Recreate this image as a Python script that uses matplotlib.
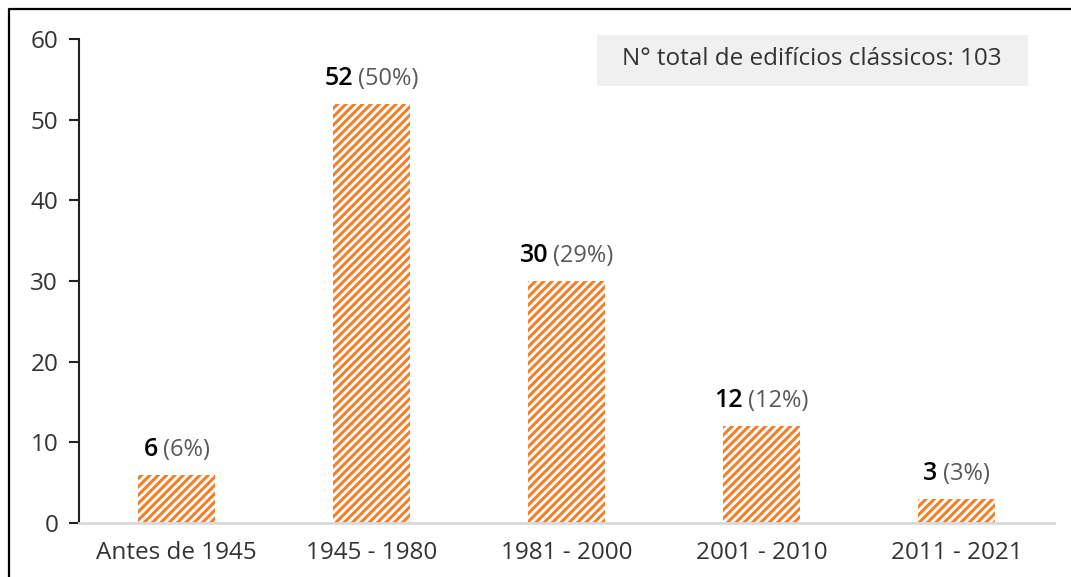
import matplotlib
matplotlib.use("Agg")
import matplotlib.pyplot as plt
from matplotlib.lines import Line2D
from matplotlib.patches import Rectangle

categories = ["Antes de 1945", "1945 - 1980", "1981 - 2000", "2001 - 2010", "2011 - 2021"]
values = [6, 52, 30, 12, 3]
percents = ["(6%)", "(50%)", "(29%)", "(12%)", "(3%)"]
yticks = [0, 10, 20, 30, 40, 50, 60]
note = "N° total de edifícios clássicos: 103"

orange = "#F47F2A"
plt.rcParams['font.family'] = ['Open Sans', 'DejaVu Sans']
plt.rcParams['hatch.linewidth'] = 2.2

W, H = 1071, 577
fig = plt.figure(figsize=(W / 100, H / 100), dpi=100)
ax = fig.add_axes([79 / W, 1 - 523 / H, (1054 - 79) / W, (523 - 39) / H])

x = list(range(len(categories)))
ax.bar(x, values, width=0.395, facecolor="white", edgecolor=orange,
       hatch="////", linewidth=0, zorder=2)

ax.set_xlim(-0.5, len(categories) - 0.5)
ax.set_ylim(0, 60)
ax.set_yticks(yticks)
ax.set_xticks(x)
ax.set_xticklabels(categories)
ax.tick_params(axis='y', length=7, width=1.5, color='#222222', labelsize=17.5,
               labelcolor='#333333', pad=8, direction='out')
ax.tick_params(axis='x', length=0, labelsize=17.5, labelcolor='#333333', pad=13)
for s in ['top', 'right']:
    ax.spines[s].set_visible(False)
ax.spines['left'].set_color('#222222')
ax.spines['left'].set_linewidth(1.5)
ax.spines['bottom'].set_color('#D9D9D9')
ax.spines['bottom'].set_linewidth(2)

# value labels: bold number + gray percent, centered together
fig.canvas.draw()
renderer = fig.canvas.get_renderer()
gap = 5
off = 13
for xi, v, p in zip(x, values, percents):
    t1 = ax.annotate(str(v), xy=(xi, v), xytext=(0, off), textcoords='offset pixels',
                     ha='left', va='bottom', fontsize=18, fontweight='semibold', color='black')
    t2 = ax.annotate(p, xy=(xi, v), xytext=(0, off), textcoords='offset pixels',
                     ha='left', va='bottom', fontsize=17, color='#595959')
    w1 = t1.get_window_extent(renderer).width
    w2 = t2.get_window_extent(renderer).width
    total = w1 + gap + w2
    t1.set_position((-total / 2, off))
    t2.set_position((-total / 2 + w1 + gap, off))

# note box
fig.add_artist(Rectangle((597 / W, 1 - 86 / H), (1028 - 597) / W, (86 - 35) / H,
                         transform=fig.transFigure, facecolor='#F0F0F0', edgecolor='none'))
fig.text(812 / W, 1 - 59 / H, note, ha='center', va='center', fontsize=17.5, color='#333333')

# outer border (top and left visible)
fig.add_artist(Line2D([9 / W, 9 / W, 1], [0, 1 - 9 / H, 1 - 9 / H],
                      transform=fig.transFigure, color='black', linewidth=1.6))

fig.savefig("out.png", dpi=100)
